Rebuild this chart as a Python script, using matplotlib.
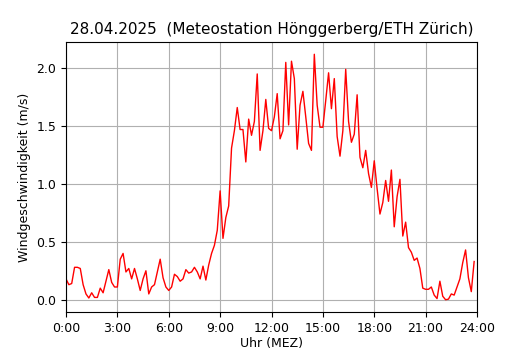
import numpy as np
import matplotlib
matplotlib.use("Agg")
import matplotlib.pyplot as plt

# Windgeschwindigkeit (m/s), 10-Minuten-Werte ab 0:00
wind = [
    0.18, 0.13, 0.14, 0.28, 0.28, 0.27, 0.13, 0.05, 0.015, 0.06,
    0.02, 0.02, 0.10, 0.06, 0.16, 0.26, 0.15, 0.11, 0.11, 0.35,
    0.40, 0.24, 0.27, 0.18, 0.27, 0.18, 0.08, 0.18, 0.25, 0.05,
    0.11, 0.13, 0.24, 0.35, 0.19, 0.11, 0.08, 0.11, 0.22, 0.20,
    0.16, 0.18, 0.26, 0.23, 0.24, 0.28, 0.24, 0.18, 0.29, 0.17,
    0.30, 0.40, 0.47, 0.60, 0.94, 0.53, 0.71, 0.81, 1.31, 1.46,
    1.66, 1.47, 1.47, 1.19, 1.56, 1.42, 1.54, 1.95, 1.29, 1.46,
    1.73, 1.48, 1.46, 1.58, 1.78, 1.39, 1.46, 2.05, 1.51, 2.06,
    1.91, 1.30, 1.68, 1.80, 1.58, 1.35, 1.29, 2.12, 1.68, 1.49,
    1.49, 1.72, 1.96, 1.65, 1.91, 1.41, 1.24, 1.46, 1.99, 1.54,
    1.36, 1.43, 1.77, 1.23, 1.14, 1.29, 1.09, 0.97, 1.20, 0.96,
    0.74, 0.84, 1.03, 0.85, 1.12, 0.63, 0.89, 1.04, 0.55, 0.67,
    0.45, 0.41, 0.34, 0.36, 0.27, 0.10, 0.09, 0.09, 0.11, 0.04,
    0.01, 0.16, 0.03, 0.0, 0.005, 0.05, 0.04, 0.11, 0.18, 0.32,
    0.43, 0.19, 0.07, 0.33,
]
hours = np.arange(len(wind)) / 6.0

tick_pos = [0, 3, 6, 9, 12, 15, 18, 21, 24]
tick_lab = ["0:00", "3:00", "6:00", "9:00", "12:00", "15:00", "18:00", "21:00", "24:00"]

fig = plt.figure(figsize=(5.3, 3.5), dpi=100)
ax = fig.add_axes([66/530, 38/350, 411/530, 270/350])
ax.plot(hours, wind, color="red", linewidth=1)
ax.set_xlim(0, 24)
ax.set_xticks(tick_pos)
ax.set_xticklabels(tick_lab)
ax.grid(True, color="#b0b0b0")
ax.set_axisbelow(True)
ax.set_title("28.04.2025  (Meteostation Hönggerberg/ETH Zürich)", fontsize=11)
ax.set_xlabel("Uhr (MEZ)", fontsize=9, labelpad=2)
ax.set_ylabel("Windgeschwindigkeit (m/s)", fontsize=9)
ax.tick_params(labelsize=9)

fig.savefig("out.png", dpi=100)
